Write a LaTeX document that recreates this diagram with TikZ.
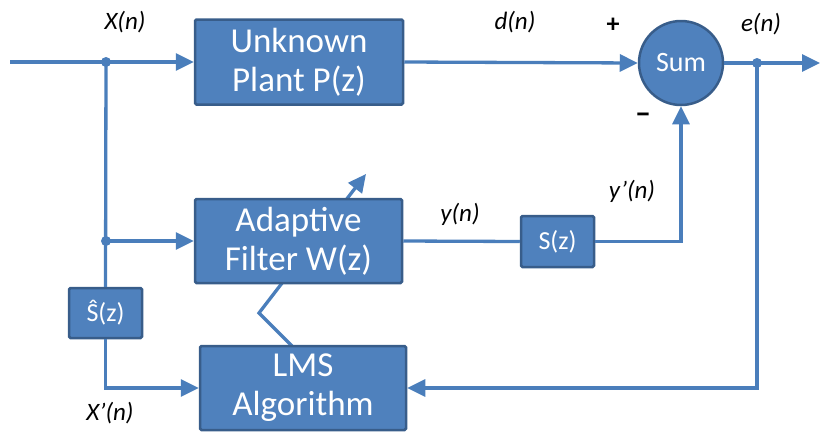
\documentclass[tikz,border=0pt]{standalone}
\usepackage{fontspec}
\setmainfont{Carlito}
\usetikzlibrary{arrows.meta,backgrounds}
\definecolor{fillblue}{HTML}{4F81BD}
\definecolor{edgeblue}{HTML}{385D8A}
\definecolor{lineblue}{HTML}{4A7EBB}
\begin{document}
\begin{tikzpicture}[x=1pt,y=-1pt,
  blk/.style={draw=edgeblue,line width=2.5pt,fill=fillblue,text=white,rounded corners=1.5pt,align=center,inner sep=0pt},
  bigtxt/.style={font=\fontsize{35}{39}\selectfont},
  smalltxt/.style={font=\fontsize{26}{28}\selectfont},
  conn/.style={draw=lineblue,line width=3.3pt},
  arr/.style={conn,-{Triangle[length=18pt,width=17pt]}},
  lbl/.style={font=\fontsize{25}{28}\selectfont\itshape,text=black,inner sep=0pt},
  sgn/.style={font=\fontsize{26}{28}\selectfont\bfseries,text=black,inner sep=0pt},
  dot/.style={circle,fill=lineblue,inner sep=0pt,minimum size=10pt}]
\useasboundingbox (0,0) rectangle (820,432);
% nodes
\node[blk,bigtxt,minimum width=208pt,minimum height=85pt] (plant) at (299,62) {Unknown\\Plant P(z)};
\node[blk,bigtxt,minimum width=207pt,minimum height=84pt] (adapt) at (298.5,241) {Adaptive\\Filter W(z)};
\node[blk,bigtxt,minimum width=206pt,minimum height=84pt] (lms) at (303,388) {LMS\\Algorithm};
\node[blk,smalltxt,minimum width=73pt,minimum height=50pt] (shat) at (105.5,313) {Ŝ(z)};
\node[blk,smalltxt,minimum width=73pt,minimum height=51pt] (sz) at (557.5,241.5) {S(z)};
\node[circle,draw=edgeblue,line width=2.5pt,fill=fillblue,text=white,minimum size=84pt,inner sep=0pt,font=\fontsize{28}{30}\selectfont] (sum) at (681,63) {Sum};
% junctions and free ends
\node[dot] (j1) at (106,62) {};
\node[dot] (j2) at (106,241) {};
\node[dot] (j3) at (757,63) {};
\coordinate (in) at (10,62);
\coordinate (out) at (820,63);
\coordinate (lmstop) at (292,346);
\coordinate (bend) at (259,313);
\coordinate (tip) at (366,174);
% connectors
\begin{scope}[on background layer]
\draw[arr] (lmstop) -- (bend) -- (tip);
\end{scope}
\draw[arr] (in) -- (plant.west);
\draw[arr] (plant.east) -- (sum.west);
\draw[arr] (sum.east) -- (out);
\draw[conn] (j1.center) -- (shat.north);
\draw[arr] (j2.center) -- (adapt.west);
\draw[arr] (shat.south) |- (lms.west);
\draw[conn] (adapt.east) -- (sz.west);
\draw[arr] (sz.east) -| (sum.south);
\draw[arr] (j3.center) |- (lms.east);
% labels
\node[lbl] (lx) at (125,22) {X(n)};
\node[lbl] (ld) at (515,22) {d(n)};
\node[lbl] (le) at (761,24) {e(n)};
\node[lbl] (ly) at (460,214) {y(n)};
\node[lbl] (lyp) at (632,191) {y’(n)};
\node[lbl] (lxp) at (110,413) {X’(n)};
\node[sgn] (plus) at (613,25) {+};
\node[sgn,font=\fontsize{32}{32}\selectfont\bfseries] (minus) at (643,118) {–};
\end{tikzpicture}
\end{document}
